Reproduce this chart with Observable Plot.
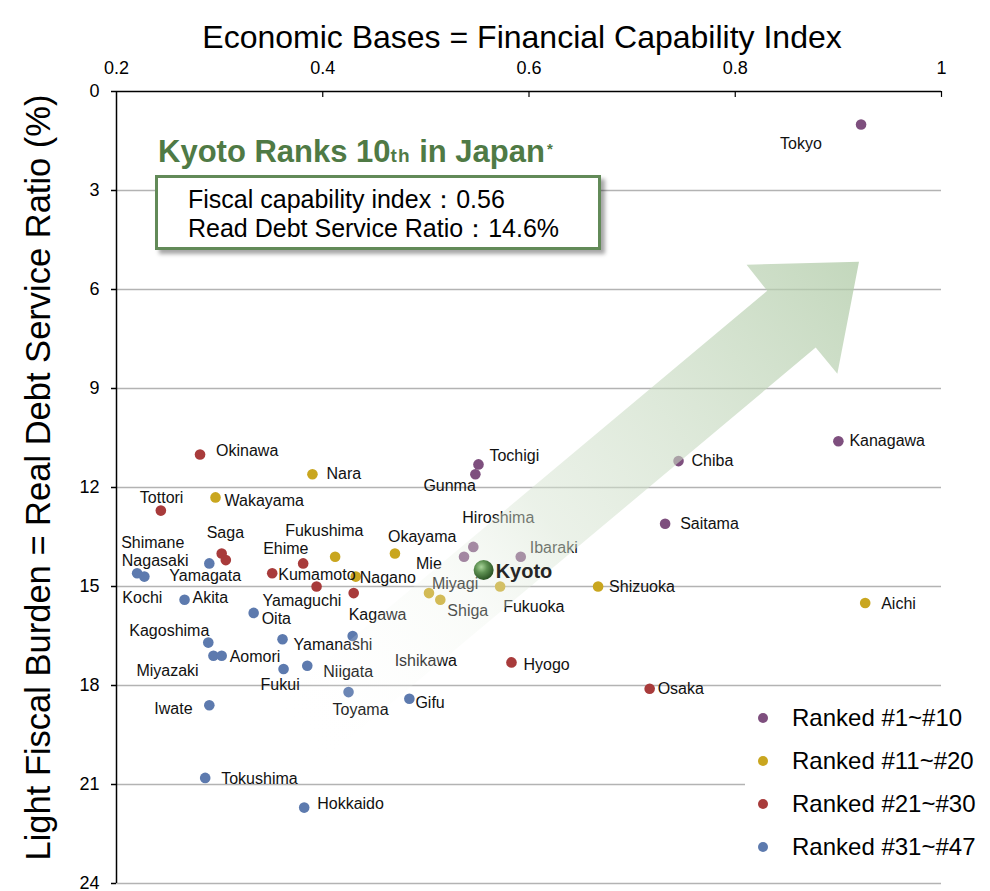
<!DOCTYPE html>
<html><head><meta charset="utf-8">
<script src="https://cdn.jsdelivr.net/npm/d3@7"></script>
<script src="https://cdn.jsdelivr.net/npm/@observablehq/plot@0.6"></script>
<style>
body{margin:0;background:#fff;font-family:"Liberation Sans",Arial,sans-serif;}
#wrap{position:relative;width:990px;height:891px;overflow:hidden;}
#wrap svg{position:absolute;left:0;top:0;}
#ktitle{position:absolute;left:158px;top:137px;font-weight:bold;font-size:31px;line-height:30px;color:#4f7a45;white-space:nowrap;}
#ktitle .th{font-size:19px;letter-spacing:1px;}
#ktitle .ast{font-size:15px;position:relative;top:-8px;margin-left:2px;}
#kbox{position:absolute;left:155px;top:175px;width:446px;height:75px;box-sizing:border-box;border:3px solid #628a58;background:#fff;box-shadow:4px 4px 4px rgba(0,0,0,0.35);padding:7px 0 0 30px;font-size:25px;line-height:29px;color:#000;white-space:nowrap;}
#legend{position:absolute;left:745px;top:693px;width:240px;height:178px;background:#fff;}
.li{position:absolute;left:0;height:30px;font-size:24px;line-height:30px;color:#000;white-space:nowrap;}
.li i{position:absolute;left:13px;top:10px;width:10px;height:10px;border-radius:50%;}
.li span{position:absolute;left:47px;top:0;}
</style></head><body><div id="wrap"></div>
<script>
// ---- data ----
const xTicks = [0.2, 0.4, 0.6, 0.8, 1];
const xTickLabels = ["0.2", "0.4", "0.6", "0.8", "1"];
const yTicks = [0, 3, 6, 9, 12, 15, 18, 21, 24];
const xTitle = "Economic Bases = Financial Capability Index";
const yTitle = "Light Fiscal Burden = Real Debt Service Ratio (%)";
const groups = ["Ranked #1~#10", "Ranked #11~#20", "Ranked #21~#30", "Ranked #31~#47"];
const groupColors = ["#7e4f7e", "#c9a61f", "#a83b3b", "#5d7aae"];

const names = ["Tokyo","Kanagawa","Chiba","Saitama","Tochigi","Gunma","Hiroshima","Mie","Ibaraki","Kyoto",
  "Nara","Wakayama","Fukushima","Okayama","Nagano","Miyagi","Shiga","Fukuoka","Shizuoka","Aichi",
  "Okinawa","Tottori","Saga","Nagasaki","Ehime","Kumamoto","Yamaguchi","Kagawa","Hyogo","Osaka",
  "Shimane","Kochi","Yamagata","Akita","Oita","Kagoshima","Miyazaki","Aomori","Yamanashi","Fukui",
  "Niigata","Iwate","Ishikawa","Toyama","Gifu","Tokushima","Hokkaido"];
const capability = [0.922,0.900,0.745,0.732,0.551,0.548,0.546,0.537,0.592,0.556,
  0.390,0.296,0.412,0.470,0.432,0.503,0.514,0.572,0.667,0.926,
  0.281,0.243,0.302,0.306,0.381,0.351,0.394,0.430,0.583,0.717,
  0.220,0.227,0.290,0.266,0.333,0.289,0.294,0.302,0.361,0.362,
  0.385,0.290,0.429,0.425,0.484,0.286,0.382];
const debtRatio = [1.0,10.6,11.2,13.1,11.3,11.6,13.8,14.1,14.1,14.5,
  11.6,12.3,14.1,14.0,14.7,15.2,15.4,15.0,15.0,15.5,
  11.0,12.7,14.0,14.2,14.3,14.6,15.0,15.2,17.3,18.1,
  14.6,14.7,14.3,15.4,15.8,16.7,17.1,17.1,16.6,17.5,
  17.4,18.6,16.5,18.2,18.4,20.8,21.7];
const rankGroup = [0,0,0,0,0,0,0,0,0,0, 1,1,1,1,1,1,1,1,1,1, 2,2,2,2,2,2,2,2,2,2,
  3,3,3,3,3,3,3,3,3,3,3,3,3,3,3,3,3];

// decorative arrow outline, in data units
const arrowX = [0.349, 0.831, 0.811, 0.920, 0.899, 0.878, 0.396];
const arrowY = [18.65, 6.04, 5.25, 5.16, 8.55, 7.76, 20.38];

// ---- layout: label placement (pixels from dot) ----
const labelOffsets = {
  Tokyo:[-81,19], Kanagawa:[11,0], Chiba:[13,0], Saitama:[15,0], Tochigi:[11,-9], Gunma:[-52,12],
  Hiroshima:[-11,-29], Mie:[-48,7], Ibaraki:[9,-9], Kyoto:[12,2],
  Nara:[14,0], Wakayama:[9,3], Fukushima:[-50,-26], Okayama:[-7,-17], Nagano:[4,1], Miyagi:[3,-9],
  Shiga:[7,11], Fukuoka:[3,20], Shizuoka:[11,0], Aichi:[16,1],
  Okinawa:[16,-4], Tottori:[-21,-13], Saga:[-15,-21], Nagasaki:[-104,1], Ehime:[-40,-15], Kumamoto:[6,2],
  Yamaguchi:[-54,14], Kagawa:[-5,22], Hyogo:[12,2], Osaka:[8,0],
  Shimane:[-16,-30], Kochi:[-22,21], Yamagata:[-40,12], Akita:[8,-2], Oita:[8,6], Kagoshima:[-79,-12],
  Miyazaki:[-77,15], Aomori:[8,1], Yamanashi:[11,6], Fukui:[-23,16], Niigata:[16,6], Iwate:[-55,4],
  Ishikawa:[42,25], Toyama:[-16,18], Gifu:[6,4], Tokushima:[16,1], Hokkaido:[13,-4]
};

const data = names.map((n, i) => ({name: n, x: capability[i], y: debtRatio[i], group: groups[rankGroup[i]]}));
const kyoto = data.filter(d => d.name === "Kyoto");
const others = data.filter(d => d.name !== "Kyoto");
const arrow = arrowX.map((x, i) => ({x, y: arrowY[i]}));

const plot = Plot.plot({
  width: 990, height: 891,
  marginLeft: 116, marginRight: 49, marginTop: 91, marginBottom: 8,
  x: {domain: [0.2, 1]},
  y: {domain: [0, 24], reverse: true},
  color: {domain: groups, range: groupColors},
  style: {fontFamily: "'Liberation Sans', Arial, sans-serif", background: "transparent", overflow: "visible", color: "#000"},
  marks: [
    Plot.ruleY(yTicks.filter(v => v > 0), {stroke: "#b3b3b3", strokeWidth: 1.6}),
    Plot.ruleY([0], {stroke: "#000", strokeWidth: 1.5}),
    Plot.ruleX([xTicks[0]], {stroke: "#000", strokeWidth: 1.5}),
    Plot.ruleX(xTicks.slice(1), {y1: yTicks[0], y2: 0.18, stroke: "#000", strokeWidth: 1.2}),
    Plot.axisY({ticks: yTicks, tickSize: 5, tickPadding: 12, fontSize: 18, label: null, strokeWidth: 1.5}),
    Plot.axisX({anchor: "top", ticks: xTicks, tickFormat: d => xTickLabels[xTicks.indexOf(d)], tickSize: 0, tickPadding: 18, fontSize: 18, label: null}),
    Plot.text([xTitle], {text: d => d, frameAnchor: "top", textAnchor: "middle", dx: -7, dy: -66, fontSize: 32}),
    Plot.text([yTitle], {text: d => d, frameAnchor: "left", textAnchor: "middle", rotate: -90, dx: -78, dy: -10, fontSize: 34.5}),
    Plot.dot(others, {x: "x", y: "y", r: 5.3, fill: "group"}),
    ...others.map(d => Plot.text([d], {x: "x", y: "y", text: "name", textAnchor: "start",
      dx: labelOffsets[d.name][0], dy: labelOffsets[d.name][1], fontSize: 16, fill: "#111"})),
    Plot.line(arrow, {x: "x", y: "y", curve: "linear-closed", fill: "url(#arrowGrad)", stroke: "none"}),
    Plot.dot(kyoto, {x: "x", y: "y", r: 10, fill: "url(#kyotoGrad)"}),
    ...kyoto.map(d => Plot.text([d], {x: "x", y: "y", text: "name", textAnchor: "start",
      dx: labelOffsets[d.name][0], dy: labelOffsets[d.name][1], fontSize: 20, fontWeight: "bold", fill: "#262626"}))
  ]
});

// gradients, positioned through the plot's scales
const sx = plot.scale("x"), sy = plot.scale("y");
const n = arrowX.length;
const tailX = sx.apply((arrowX[0] + arrowX[n - 1]) / 2), tailY = sy.apply((arrowY[0] + arrowY[n - 1]) / 2);
const tipX = sx.apply(arrowX[3]), tipY = sy.apply(arrowY[3]);
const defs = document.createElementNS("http://www.w3.org/2000/svg", "defs");
defs.innerHTML = `
<linearGradient id="arrowGrad" gradientUnits="userSpaceOnUse" x1="${tailX}" y1="${tailY}" x2="${tipX}" y2="${tipY}">
  <stop offset="0" stop-color="#ffffff" stop-opacity="0"/>
  <stop offset="0.3" stop-color="#ebf2e8" stop-opacity="0.3"/>
  <stop offset="0.45" stop-color="#d7e4d2" stop-opacity="0.5"/>
  <stop offset="1" stop-color="#afcaa6" stop-opacity="0.75"/>
</linearGradient>
<radialGradient id="kyotoGrad" cx="0.38" cy="0.35" r="0.65">
  <stop offset="0" stop-color="#a9d49a"/>
  <stop offset="0.45" stop-color="#5e9152"/>
  <stop offset="1" stop-color="#2b5424"/>
</radialGradient>`;
plot.insertBefore(defs, plot.firstChild);

const wrap = document.getElementById("wrap");
wrap.appendChild(plot);

const title = document.createElement("div");
title.id = "ktitle";
title.innerHTML = 'Kyoto Ranks 10<span class="th">th</span> in Japan<span class="ast">*</span>';
wrap.appendChild(title);

const box = document.createElement("div");
box.id = "kbox";
box.innerHTML = 'Fiscal capability index：0.56<br>Read Debt Service Ratio：14.6%';
wrap.appendChild(box);

const legend = document.createElement("div");
legend.id = "legend";
groups.forEach((g, i) => {
  const it = document.createElement("div");
  it.className = "li";
  it.style.top = (10 + i * 43) + "px";
  it.innerHTML = `<i style="background:${groupColors[i]}"></i><span>${g}</span>`;
  legend.appendChild(it);
});
wrap.appendChild(legend);
</script>
</body></html>
